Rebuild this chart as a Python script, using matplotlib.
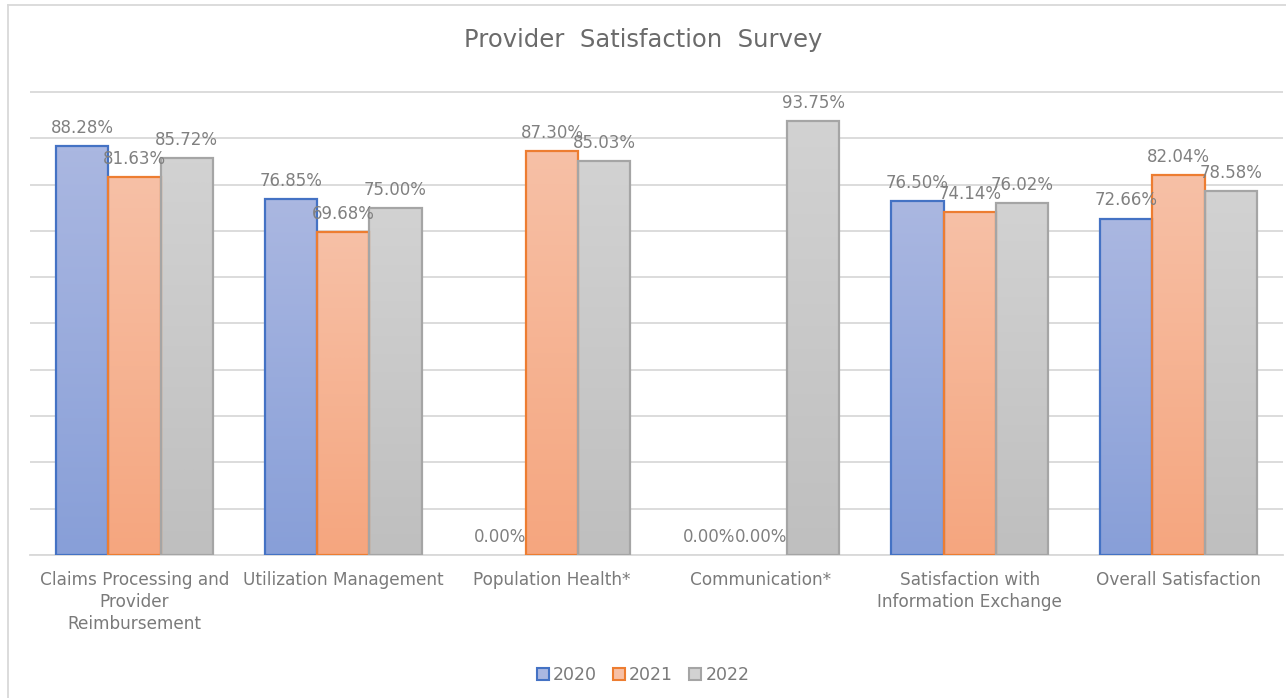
import matplotlib
matplotlib.use("Agg")
import matplotlib.pyplot as plt
import numpy as np
from matplotlib.colors import LinearSegmentedColormap
from matplotlib.lines import Line2D
from matplotlib.patches import Rectangle

categories = ["Claims Processing and\nProvider\nReimbursement", "Utilization Management",
              "Population Health*", "Communication*",
              "Satisfaction with\nInformation Exchange", "Overall Satisfaction"]
years = ["2020", "2021", "2022"]
v2020 = [88.28, 76.85, 0.00, 0.00, 76.50, 72.66]
v2021 = [81.63, 69.68, 87.30, 0.00, 74.14, 82.04]
v2022 = [85.72, 75.00, 85.03, 93.75, 76.02, 78.58]
series = [v2020, v2021, v2022]

edge_cols = ["#4472c4", "#ed7d31", "#a5a5a5"]
top_cols = ["#aab7e1", "#f7c0a6", "#d2d2d2"]
bot_cols = ["#889fd8", "#f5a67f", "#bfbfbf"]

fig = plt.figure(figsize=(12.86, 6.98), dpi=100)
ax = fig.add_axes([30/1286, (698-555)/698, 1253/1286, (555-91)/698])

w = 0.25
x = np.arange(len(categories)) + 0.5
for k, vals in enumerate(series):
    cmap = LinearSegmentedColormap.from_list("g%d" % k, [bot_cols[k], top_cols[k]])
    grad = np.linspace(0, 1, 64).reshape(-1, 1)
    for i, v in enumerate(vals):
        xc = x[i] + (k - 1) * w
        if v > 0:
            ax.imshow(grad, cmap=cmap, origin="lower", aspect="auto",
                      extent=[xc - w/2, xc + w/2, 0, v], interpolation="bilinear", zorder=2)
            ax.add_patch(Rectangle((xc - w/2, 0), w, v, fill=False,
                                   edgecolor=edge_cols[k], linewidth=1.6, zorder=3))
        ax.annotate("%.2f%%" % v, (xc, v), xytext=(0, 13), textcoords="offset points",
                    ha="center", va="center", fontsize=12, color="#808080", zorder=4,
                    annotation_clip=False)

ax.set_xlim(0, len(categories))
ax.set_ylim(0, 100.2)
ax.set_yticks(np.arange(0, 101, 10))
ax.yaxis.grid(True, color="#d9d9d9", linewidth=1.3, zorder=0)
ax.set_axisbelow(True)
ax.tick_params(left=False, labelleft=False, bottom=False)
ax.set_xticks(x)
ax.set_xticklabels(categories, fontsize=12.2, color="#7a7a7a", linespacing=1.28)
ax.tick_params(axis="x", pad=8)
for s in ["top", "right", "left"]:
    ax.spines[s].set_visible(False)
ax.spines["bottom"].set_color("#d9d9d9")
ax.spines["bottom"].set_linewidth(1.3)

fig.text(0.5, 1 - 40/698, "Provider  Satisfaction  Survey", ha="center", va="center",
         fontsize=17.5, color="#6b6b6b")

handles = [Rectangle((0, 0), 1, 1, facecolor=top_cols[k], edgecolor=edge_cols[k], linewidth=1.5)
           for k in range(3)]
fig.legend(handles, years, loc="center", bbox_to_anchor=(0.5, 1 - 675/698), ncol=3,
           frameon=False, fontsize=12.5, handlelength=0.7, handleheight=0.7,
           handletextpad=0.25, columnspacing=0.9, labelcolor="#7a7a7a")

# outer chart border
fig.add_artist(Line2D([8/1286, 1], [1 - 5/698, 1 - 5/698], color="#d9d9d9", linewidth=1.3))
fig.add_artist(Line2D([8/1286, 8/1286], [0, 1 - 5/698], color="#d9d9d9", linewidth=1.3))

fig.savefig("out.png", dpi=100)
